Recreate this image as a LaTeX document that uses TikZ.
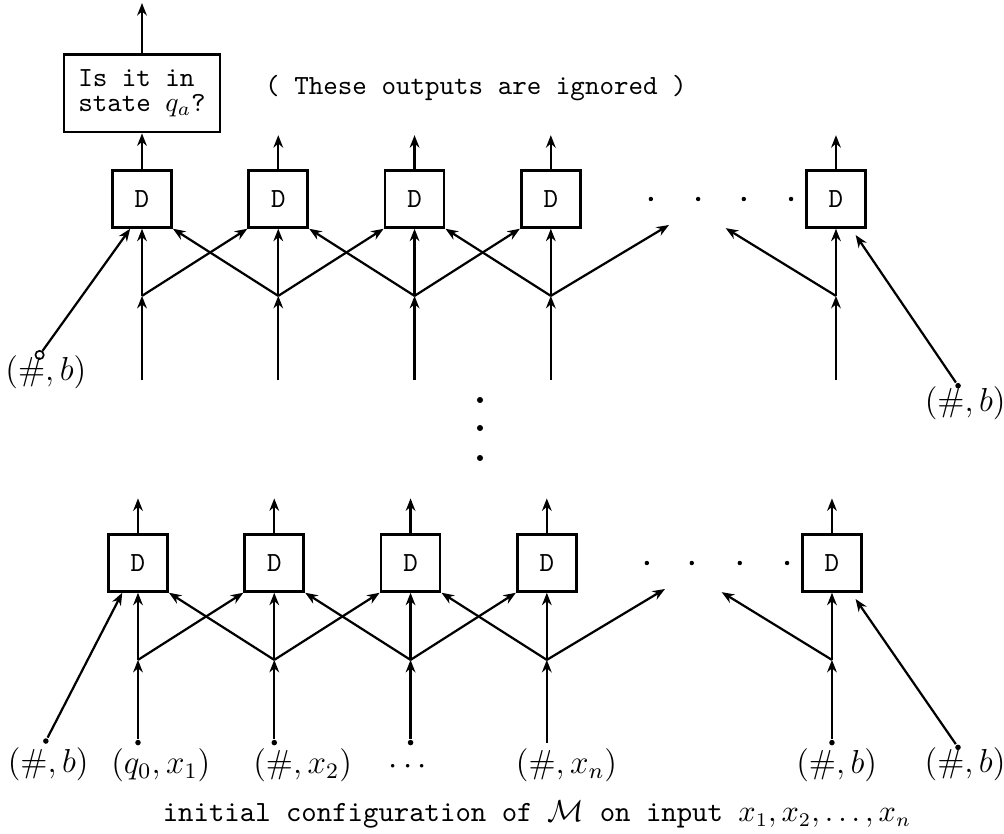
\documentclass[tikz,border=0pt]{standalone}
\usepackage{amsmath}
\usepackage{amssymb}
\usetikzlibrary{arrows.meta,positioning}

\begin{document}
\begin{tikzpicture}[%
    >={Stealth[length=4.5pt,width=3.5pt]},
    x=0.0127cm, y=-0.0127cm,
    node distance=1.73cm,
    on grid,
    line width=0.8pt,
    cell/.style={draw, line width=1pt, minimum width=0.75cm, minimum height=0.72cm, font=\ttfamily},
    pt/.style={circle, fill, inner sep=0pt, minimum size=2pt},
    opt/.style={circle, draw, line width=0.6pt, inner sep=0pt, minimum size=3pt},
    dotty/.style={circle, fill, inner sep=0pt, minimum size=1.6pt},
    lbl/.style={font=\fontsize{11.5}{13}\selectfont, inner sep=0pt}
    ]
    \useasboundingbox (0,0) rectangle (1004,834);

    % upper row (last step)
    \node[cell] (t1) at (142,199) {D};
    \node[cell] (t2) [right=of t1] {D};
    \node[cell] (t3) [right=of t2] {D};
    \node[cell] (t4) [right=of t3] {D};
    \node[cell] (t5) [right=3.62cm of t4] {D};

    \node[draw, line width=1pt, align=left, font=\ttfamily, minimum width=1.98cm, minimum height=0.98cm]
        (test) [above=1.34cm of t1] {Is it in\\[-3pt]state $q_a$?};
    \coordinate[above=0.64cm of test.north] (out);
    \node[font=\ttfamily] (ignored) at (476,88) {( These outputs are ignored )};

    \coordinate[below=1.23cm of t1] (tj1);
    \coordinate[below=1.23cm of t2] (tj2);
    \coordinate[below=1.23cm of t3] (tj3);
    \coordinate[below=1.23cm of t4] (tj4);
    \coordinate[below=1.23cm of t5] (tj5);
    \coordinate[below=2.30cm of t1] (ts1);
    \coordinate[below=2.30cm of t2] (ts2);
    \coordinate[below=2.30cm of t3] (ts3);
    \coordinate[below=2.30cm of t4] (ts4);
    \coordinate[below=2.30cm of t5] (ts5);
    \coordinate[above=0.81cm of t2] (to2);
    \coordinate[above=0.81cm of t3] (to3);
    \coordinate[above=0.81cm of t4] (to4);
    \coordinate[above=0.81cm of t5] (to5);
    \coordinate[above right=0.90cm and 1.50cm of tj4] (tr4);
    \coordinate[above left=0.86cm and 1.40cm of tj5] (tl5);

    \node[opt] (tfl) [below left=1.98cm and 1.30cm of t1] {};
    \node[lbl] (tfll) [below right=0.22cm and 0.08cm of tfl] {$(\#,b)$};
    \node[pt] (tfr) [below right=2.37cm and 1.55cm of t5] {};
    \node[lbl] (tfrl) [below right=0.22cm and 0.09cm of tfr] {$(\#,b)$};

    \draw[->] (test.north) -- (out);
    \draw[->] (t1.north) -- (test.south);
    \draw[->] (t2.north) -- (to2);
    \draw[->] (t3.north) -- (to3);
    \draw[->] (t4.north) -- (to4);
    \draw[->] (t5.north) -- (to5);

    \draw[->] (ts1) -- (tj1);
    \draw[->] (ts2) -- (tj2);
    \draw[->] (ts3) -- (tj3);
    \draw[->] (ts4) -- (tj4);
    \draw[->] (ts5) -- (tj5);
    \draw[->] (tj1) -- (t1.south);
    \draw[->] (tj2) -- (t2.south);
    \draw[->] (tj3) -- (t3.south);
    \draw[->] (tj4) -- (t4.south);
    \draw[->] (tj5) -- (t5.south);

    \draw[->] (tj1) -- (t2.south west);
    \draw[->] (tj2) -- (t1.south east);
    \draw[->] (tj2) -- (t3.south west);
    \draw[->] (tj3) -- (t2.south east);
    \draw[->] (tj3) -- (t4.south west);
    \draw[->] (tj4) -- (t3.south east);
    \draw[->] (tj4) -- (tr4);
    \draw[->] (tj5) -- (tl5);
    \draw[->] (tfl) -- ([xshift=-0.15cm]t1.south);
    \draw[->] (tfr) -- ([xshift=0.25cm,yshift=-0.08cm]t5.south);

    \foreach \k/\d in {1/1.27,2/1.87,3/2.45,4/3.05}
        \node[dotty] (tdot\k) [right=\d cm of t4] {};

    % vertical dots
    \node[pt, minimum size=2.2pt] (vdot1) at (480,400) {};
    \node[pt, minimum size=2.2pt] (vdot2) at (480,428) {};
    \node[pt, minimum size=2.2pt] (vdot3) at (480,458) {};

    % lower row (initial configuration)
    \node[cell] (b1) at (138,563) {D};
    \node[cell] (b2) [right=of b1] {D};
    \node[cell] (b3) [right=of b2] {D};
    \node[cell] (b4) [right=of b3] {D};
    \node[cell] (b5) [right=3.62cm of b4] {D};

    \coordinate[below=1.23cm of b1] (bj1);
    \coordinate[below=1.23cm of b2] (bj2);
    \coordinate[below=1.23cm of b3] (bj3);
    \coordinate[below=1.23cm of b4] (bj4);
    \coordinate[below=1.23cm of b5] (bj5);
    \node[pt] (bs1) [below=2.28cm of b1] {};
    \node[pt] (bs2) [below=2.28cm of b2] {};
    \node[pt] (bs3) [below=2.28cm of b3] {};
    \coordinate[below=2.28cm of b4] (bs4);
    \node[pt] (bs5) [below=2.28cm of b5] {};
    \coordinate[above=0.82cm of b1] (bo1);
    \coordinate[above=0.82cm of b2] (bo2);
    \coordinate[above=0.82cm of b3] (bo3);
    \coordinate[above=0.82cm of b4] (bo4);
    \coordinate[above=0.82cm of b5] (bo5);
    \coordinate[above right=0.90cm and 1.50cm of bj4] (br4);
    \coordinate[above left=0.86cm and 1.40cm of bj5] (bll5);

    \node[pt] (bfl) [below left=2.26cm and 1.17cm of b1] {};
    \node[pt] (bfr) [below right=2.34cm and 1.60cm of b5] {};

    \node[lbl] (bfll) [below right=0.29cm and 0.03cm of bfl] {$(\#,b)$};
    \node[lbl] (bl1) [below right=0.29cm and 0.29cm of bs1] {$(q_0,x_1)$};
    \node[lbl] (bl2) [below right=0.29cm and 0.36cm of bs2] {$(\#,x_2)$};
    \node[lbl] (bl3) [below=0.31cm of bs3] {$\cdots$};
    \node[lbl] (bl4) [below right=2.57cm and 0.25cm of b4] {$(\#,x_n)$};
    \node[lbl] (bl5) [below right=0.29cm and 0.06cm of bs5] {$(\#,b)$};
    \node[lbl] (bfrl) [below right=0.22cm and 0.09cm of bfr] {$(\#,b)$};

    \node[font=\fontsize{10.6}{12}\selectfont\ttfamily] (caption) at (537,815)
        {initial configuration of $\mathcal{M}$ on input $x_1,x_2,\ldots,x_n$};

    \draw[->] (b1.north) -- (bo1);
    \draw[->] (b2.north) -- (bo2);
    \draw[->] (b3.north) -- (bo3);
    \draw[->] (b4.north) -- (bo4);
    \draw[->] (b5.north) -- (bo5);

    \draw[->] (bs1) -- (bj1);
    \draw[->] (bs2) -- (bj2);
    \draw[->] (bs3) -- (bj3);
    \draw[->] (bs4) -- (bj4);
    \draw[->] (bs5) -- (bj5);
    \draw[->] (bj1) -- (b1.south);
    \draw[->] (bj2) -- (b2.south);
    \draw[->] (bj3) -- (b3.south);
    \draw[->] (bj4) -- (b4.south);
    \draw[->] (bj5) -- (b5.south);

    \draw[->] (bj1) -- (b2.south west);
    \draw[->] (bj2) -- (b1.south east);
    \draw[->] (bj2) -- (b3.south west);
    \draw[->] (bj3) -- (b2.south east);
    \draw[->] (bj3) -- (b4.south west);
    \draw[->] (bj4) -- (b3.south east);
    \draw[->] (bj4) -- (br4);
    \draw[->] (bj5) -- (bll5);
    \draw[->] (bfl) -- ([xshift=-0.2cm]b1.south);
    \draw[->] (bfr) -- ([xshift=0.3cm,yshift=-0.08cm]b5.south);

    \foreach \k/\d in {1/1.27,2/1.84,3/2.45,4/3.05}
        \node[dotty] (bdot\k) [right=\d cm of b4] {};
\end{tikzpicture}
\end{document}
